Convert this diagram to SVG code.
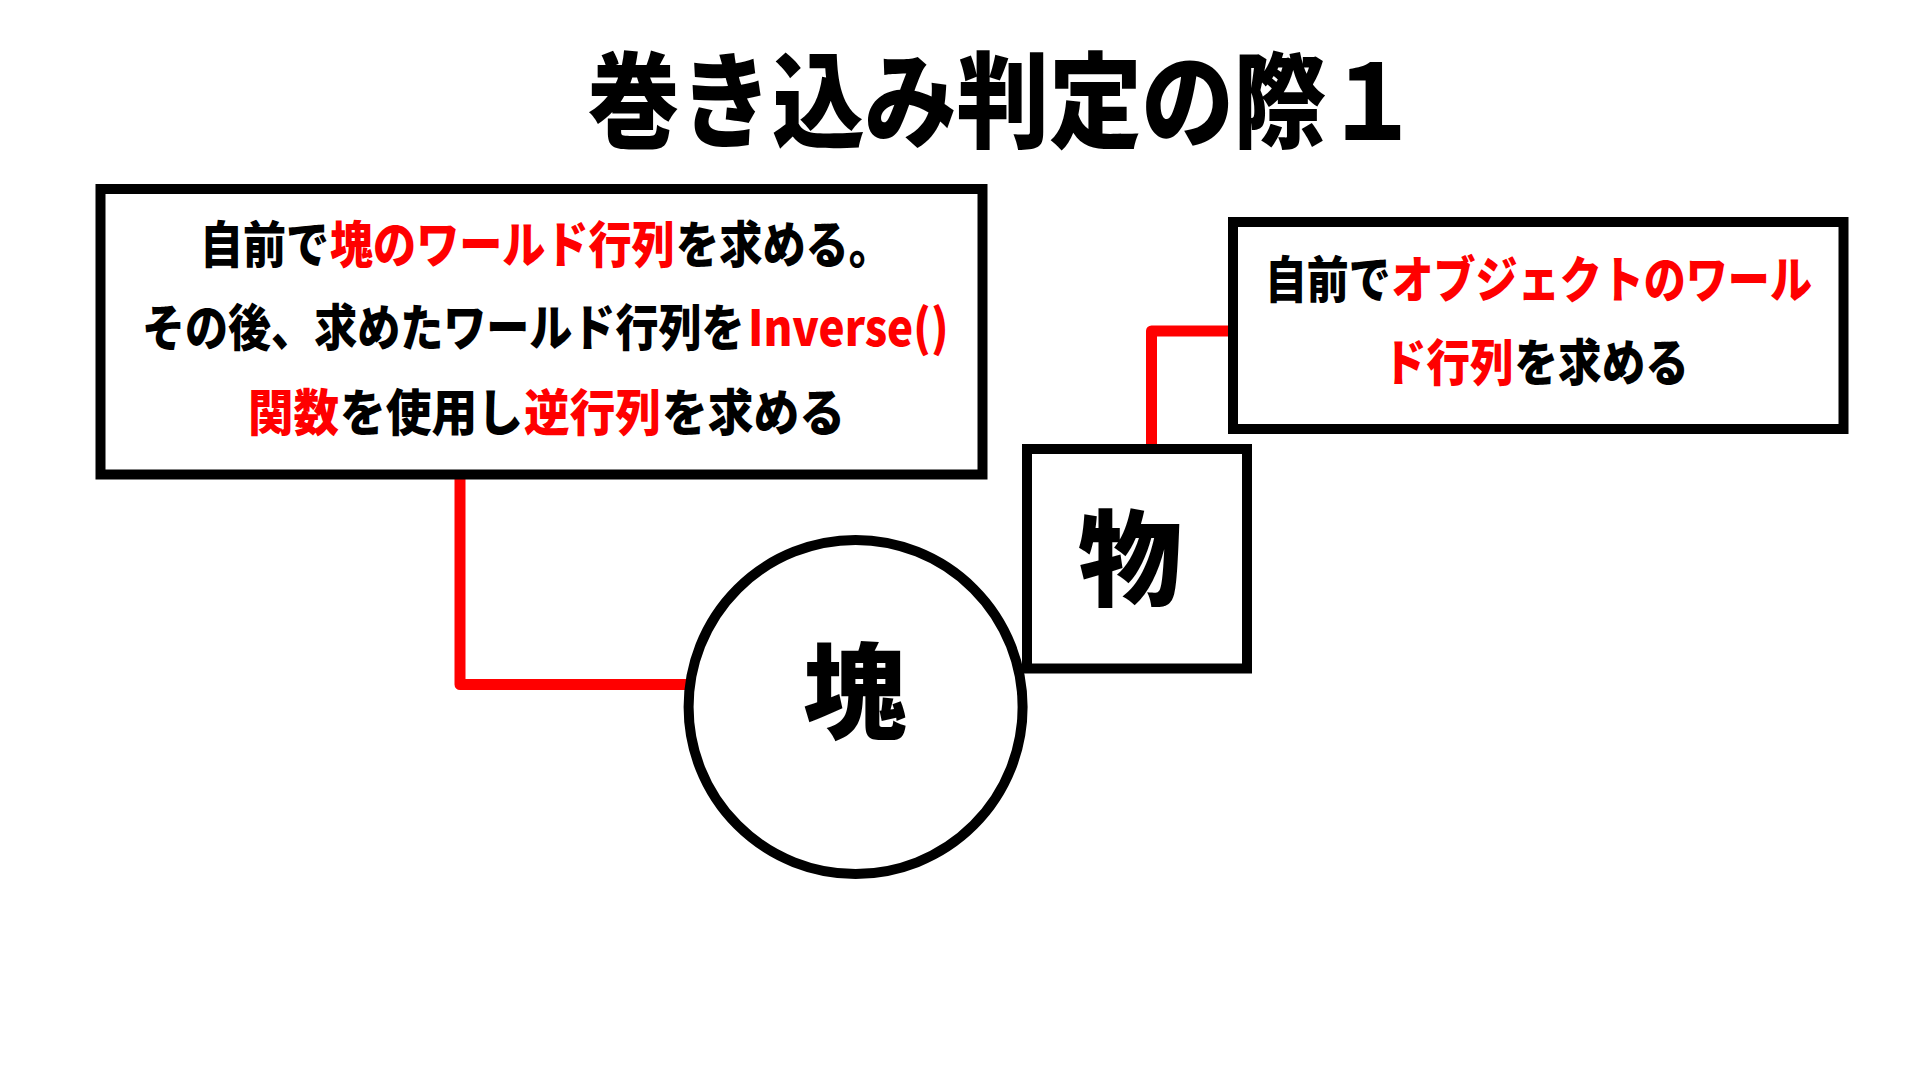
<svg xmlns="http://www.w3.org/2000/svg" width="1920" height="1080" viewBox="0 0 1920 1080">
<style>
.t{font-family:"Noto Sans CJK JP","Noto Sans CJK SC",sans-serif;font-weight:900;fill:#000;}
.s{font-size:50px;}
.r{fill:#ff0000;}
.box{fill:#fff;stroke:#000;stroke-width:10;}
.wire{fill:none;stroke:#ff0000;stroke-width:11;stroke-linejoin:round;stroke-linecap:butt;}
</style>
<rect width="1920" height="1080" fill="#fff"/>
<g id="title">
<text class="t" font-size="104" text-anchor="middle" transform="translate(1003,140) scale(0.888,1)">巻き込み判定の際１</text>
</g>
<g id="connectors">
<path class="wire" d="M460,479 V684.5 H688"/>
<path class="wire" d="M1151.5,444 V331 H1230"/>
</g>
<g id="node-left-note">
<rect class="box" x="100.5" y="189" width="882" height="285.5"/>
<text class="t s" transform="translate(200,263) scale(0.86,1)">自前で</text>
<text class="t s r" transform="translate(330,263) scale(0.862,1)">塊のワールド行列</text>
<text class="t s" transform="translate(676,263) scale(0.864,1)">を求める。</text>
<text class="t s" transform="translate(142,346) scale(0.861,1)">その後、求めたワールド行列を</text>
<text class="t s r" transform="translate(748,346) scale(0.88,1)">Inverse()</text>
<text class="t s r" transform="translate(248,431) scale(0.91,1)">関数</text>
<text class="t s" transform="translate(340,431) scale(0.915,1)">を使用し</text>
<text class="t s r" transform="translate(524,431) scale(0.913,1)">逆行列</text>
<text class="t s" transform="translate(662,431) scale(0.915,1)">を求める</text>
</g>
<g id="node-right-note">
<rect class="box" x="1233" y="222" width="610.5" height="207"/>
<text class="t s" transform="translate(1265,298) scale(0.837,1)">自前で</text>
<text class="t s r" transform="translate(1391.5,298) scale(0.841,1)">オブジェクトのワール</text>
<text class="t s r" transform="translate(1383,381) scale(0.87,1)">ド行列</text>
<text class="t s" transform="translate(1514.5,381) scale(0.872,1)">を求める</text>
</g>
<g id="node-object">
<rect class="box" x="1027" y="449" width="220" height="219.5"/>
<text class="t" x="1130" y="598" font-size="104" text-anchor="middle">物</text>
</g>
<g id="node-lump">
<circle class="box" cx="855.6" cy="707" r="167"/>
<text class="t" x="855" y="731" font-size="104" text-anchor="middle">塊</text>
</g>
</svg>
